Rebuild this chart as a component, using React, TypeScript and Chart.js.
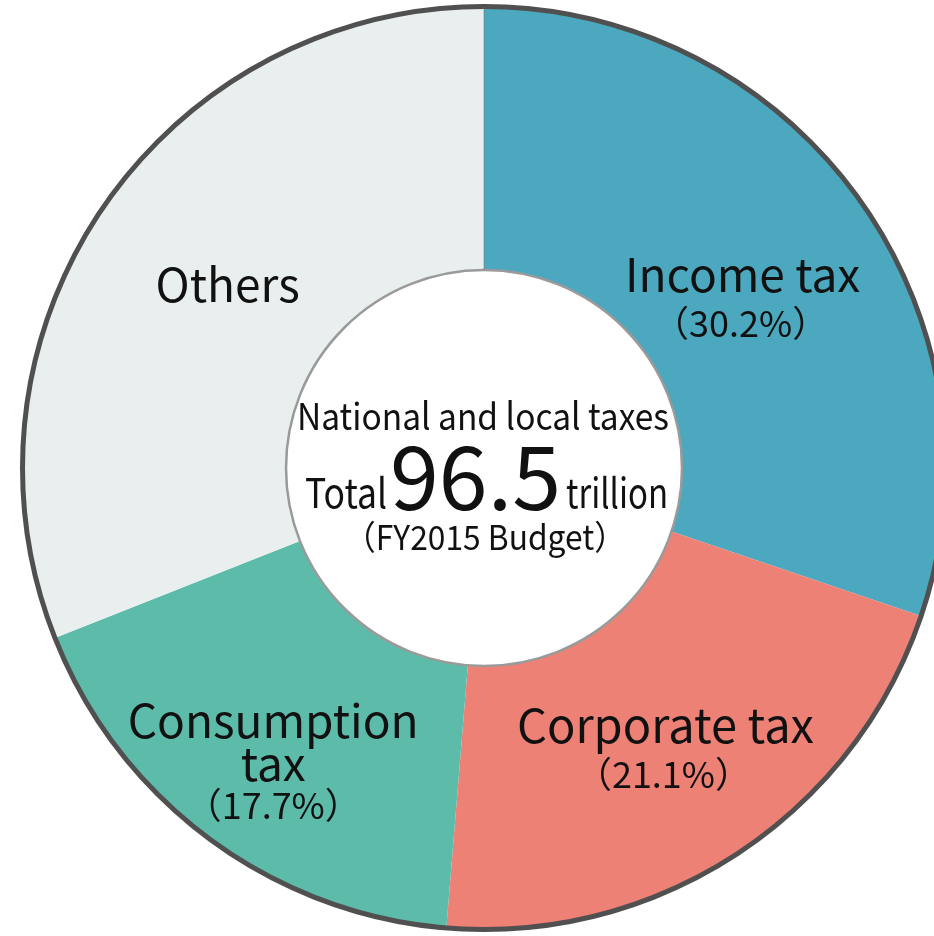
import React, { useEffect, useRef } from "react";
import { Chart, registerables } from "chart.js";

Chart.register(...registerables);

const categories = ["Income tax", "Corporate tax", "Consumption tax", "Others"];
const shares = [30.2, 21.1, 17.7, 31.0];
const shareLabels = ["（30.2%）", "（21.1%）", "（17.7%）", ""];
const sliceColors = ["#4BA8BE", "#EE8176", "#5DBBAA", "#E9EEEF"];
const centerTitle = "National and local taxes";
const centerPrefix = "Total";
const centerValue = "96.5";
const centerUnit = "trillion";
const centerNote = "（FY2015 Budget）";

const FONT = '"Noto Sans CJK JP", "Noto Sans", sans-serif';

// label layout relative to each arc's centroid: [text, size, dx, dy]
const labelLayout: Array<Array<[string, number, number, number]>> = [
  [
    ["Income tax", 46, -10, 17],
    [shareLabels[0], 36, -12, 62],
  ],
  [
    ["Corporate tax", 47, 0, -1],
    [shareLabels[1], 36, -2, 44],
  ],
  [
    ["Consumption", 46, -14, 4],
    ["tax", 46, -14, 47],
    [shareLabels[2], 36, -14, 85],
  ],
  [["Others", 46, 17, 20]],
];

const overlayPlugin = {
  id: "overlay",
  afterDraw(chart: any) {
    const ctx = chart.ctx as CanvasRenderingContext2D;
    const meta = chart.getDatasetMeta(0);
    const arc0 = meta.data[0] as any;
    const cx = arc0.x;
    const cy = arc0.y;
    const outer = arc0.outerRadius;
    const inner = arc0.innerRadius;
    ctx.save();
    // outer ring
    ctx.beginPath();
    ctx.arc(cx, cy, outer - 1.5, 0, Math.PI * 2);
    ctx.strokeStyle = "#505050";
    ctx.lineWidth = 5;
    ctx.stroke();
    // inner circle
    ctx.beginPath();
    ctx.arc(cx, cy, inner, 0, Math.PI * 2);
    ctx.fillStyle = "#ffffff";
    ctx.fill();
    ctx.strokeStyle = "#9a9a9a";
    ctx.lineWidth = 2.5;
    ctx.stroke();
    // top separator
    ctx.beginPath();
    ctx.moveTo(cx, cy - inner);
    ctx.lineTo(cx, cy - outer + 2);
    ctx.strokeStyle = "rgba(120,120,120,0.6)";
    ctx.lineWidth = 1;
    ctx.stroke();

    // slice labels
    ctx.fillStyle = "#111111";
    ctx.textAlign = "center";
    ctx.textBaseline = "alphabetic";
    meta.data.forEach((el: any, i: number) => {
      const pos = el.tooltipPosition();
      (labelLayout[i] || []).forEach(([txt, size, dx, dy]) => {
        if (!txt) return;
        ctx.font = `${size}px ${FONT}`;
        ctx.fillText(txt, pos.x + dx, pos.y + dy);
      });
    });

    // center text
    ctx.font = `37px ${FONT}`;
    ctx.fillText(centerTitle, cx - 1, cy - 38, 372);
    ctx.textAlign = "left";
    ctx.font = `41px ${FONT}`;
    ctx.fillText(centerPrefix, cx - 179, cy + 40, 82);
    ctx.font = `88px ${FONT}`;
    ctx.fillText(centerValue, cx - 94, cy + 42, 172);
    ctx.font = `41px ${FONT}`;
    ctx.fillText(centerUnit, cx + 82, cy + 40, 102);
    ctx.textAlign = "center";
    ctx.font = `34px ${FONT}`;
    ctx.fillText(centerNote, cx + 1, cy + 82, 282);
    ctx.restore();
  },
};

export default function App() {
  const ref = useRef<HTMLCanvasElement | null>(null);
  useEffect(() => {
    if (!ref.current) return;
    const chart = new Chart(ref.current, {
      type: "doughnut",
      data: {
        labels: categories,
        datasets: [
          {
            data: shares,
            backgroundColor: sliceColors,
            borderWidth: 0,
          },
        ],
      },
      options: {
        responsive: false,
        animation: false,
        cutout: 198,
        rotation: 0,
        layout: { padding: { top: 5, bottom: 5, left: 0, right: 0 } },
        plugins: {
          legend: { display: false },
          tooltip: { enabled: false },
        },
      },
      plugins: [overlayPlugin],
    });
    return () => chart.destroy();
  }, []);
  return (
    <div
      style={{
        position: "fixed",
        left: 0,
        top: 0,
        width: 934,
        height: 936,
        overflow: "hidden",
        background: "#ffffff",
      }}
    >
      <canvas ref={ref} width={968} height={936} style={{ width: 968, height: 936, display: "block" }} />
    </div>
  );
}
